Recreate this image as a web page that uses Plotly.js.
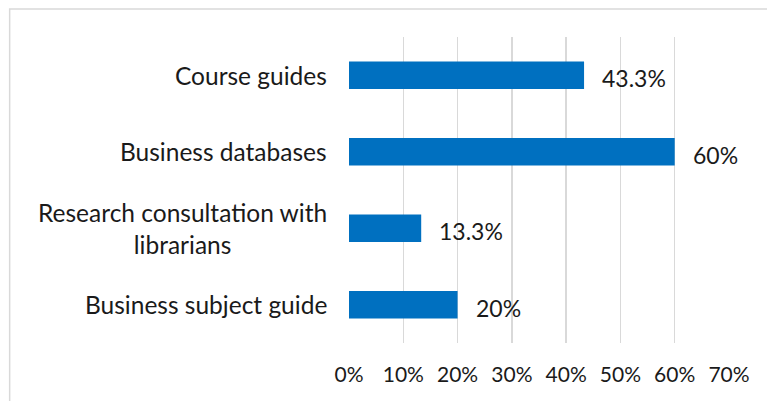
<!DOCTYPE html>
<html>
<head>
<meta charset="utf-8">
<script src="https://cdn.plot.ly/plotly-3.0.1.min.js"></script>
<style>
html,body{margin:0;padding:0;background:#fff;}
#chart{width:767px;height:401px;}
</style>
</head>
<body>
<div id="chart"></div>
<script>
const categories = ["Course guides", "Business databases", "Research consultation with<br>librarians", "Business subject guide"];
const values = [0.433, 0.60, 0.133, 0.20];
const valueLabels = ["43.3%", "60%", "13.3%", "20%"];
const tickVals = [0, 0.1, 0.2, 0.3, 0.4, 0.5, 0.6, 0.7];
const tickText = ["0%", "10%", "20%", "30%", "40%", "50%", "60%", "70%"];

const FONT = "Lato, 'Open Sans', sans-serif";
const TXT = "#1a1a1a";

const trace = {
  type: "bar",
  orientation: "h",
  x: values,
  y: categories,
  marker: {color: "#0070C0"},
  hoverinfo: "skip"
};

const annotations = [];
categories.forEach((c, i) => {
  annotations.push({
    xref: "x", yref: "y", x: values[i], y: c,
    text: valueLabels[i], showarrow: false,
    xanchor: "left", yanchor: "middle", xshift: 16, yshift: -3,
    font: {family: FONT, size: 23, color: TXT}
  });
  annotations.push({
    xref: "paper", yref: "y", x: 0, y: c,
    text: c, showarrow: false, align: "center",
    xanchor: "right", yanchor: "middle", xshift: -20,
    font: {family: FONT, size: 24.5, color: TXT}
  });
});

const layout = {
  width: 767, height: 401,
  margin: {l: 349, r: 38, t: 37, b: 58},
  paper_bgcolor: "#fff", plot_bgcolor: "#fff",
  showlegend: false,
  bargap: 0.64,
  font: {family: FONT, size: 21, color: TXT},
  xaxis: {
    range: [0, 0.7], tickvals: tickVals, ticktext: tickText,
    showgrid: true, gridcolor: "#d9d9d9", gridwidth: 1.5,
    zeroline: false, showline: false, ticks: "",
    ticklabelstandoff: 17,
    tickfont: {family: FONT, size: 21, color: TXT}
  },
  yaxis: {
    autorange: "reversed", showticklabels: false, showgrid: false,
    zeroline: false, showline: false, ticks: ""
  },
  annotations: annotations,
  shapes: [{
    type: "rect", xref: "paper", yref: "paper",
    x0: -0.893, x1: 1.2, y0: -0.3, y1: 1.0915,
    line: {color: "#d9d9d9", width: 1.5}, layer: "below"
  }]
};

Plotly.newPlot("chart", [trace], layout, {staticPlot: true, displayModeBar: false});
</script>
</body>
</html>
